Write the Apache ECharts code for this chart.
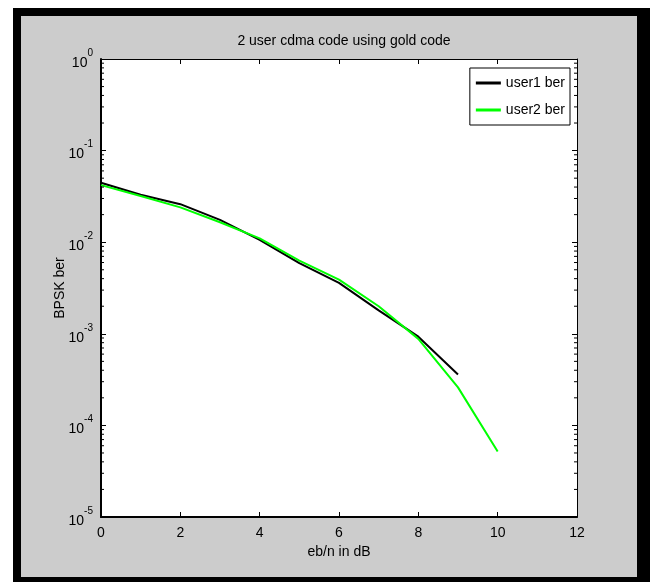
<!DOCTYPE html>
<html>
<head>
<meta charset="utf-8">
<script src="https://cdn.jsdelivr.net/npm/echarts@6/dist/echarts.min.js"></script>
<style>
html,body{margin:0;padding:0;background:#fff;}
#c{width:650px;height:582px;}
</style>
</head>
<body>
<div id="c"></div>
<script>
const titleText = '2 user cdma code using gold code';
const xName = 'eb/n in dB';
const yName = 'BPSK ber';
const xTicks = [0, 2, 4, 6, 8, 10, 12];
const user1X = [0, 1, 2, 3, 4, 5, 6, 7, 8, 9];
const user1Ber = [0.0445, 0.033, 0.026, 0.0175, 0.0106, 0.0059, 0.0036, 0.0018, 0.00093, 0.00036];
const user2X = [0, 1, 2, 3, 4, 5, 6, 7, 8, 9, 10];
const user2Ber = [0.042, 0.032, 0.024, 0.0165, 0.011, 0.0063, 0.0039, 0.0020, 0.00088, 0.00026, 0.000052];
const seriesNames = ['user1 ber', 'user2 ber'];

const minorVals = [];
for (let e = -5; e <= -1; e++) {
  for (let m = 2; m <= 9; m++) minorVals.push([0, m * Math.pow(10, e)]);
}

const chart = echarts.init(document.getElementById('c'), null, {renderer: 'canvas'});
const font = 'Liberation Sans, Arial, sans-serif';

const yLabel = {
  formatter: function (v) {
    const e = Math.round(Math.log10(v));
    return '{b|10}{s|' + e + '}';
  },
  rich: {
    b: {fontSize: 14, fontFamily: font, color: '#000', verticalAlign: 'bottom', lineHeight: 22},
    s: {fontSize: 10, fontFamily: font, color: '#000', verticalAlign: 'top', lineHeight: 22}
  },
  margin: 8
};

chart.setOption({
  animation: false,
  backgroundColor: '#ffffff',
  graphic: [
    {type: 'rect', shape: {x: 13, y: 8, width: 637, height: 574}, style: {fill: '#000'}, z: -10},
    {type: 'rect', shape: {x: 21, y: 16, width: 616, height: 561}, style: {fill: '#cccccc'}, z: -9}
  ],
  title: {
    text: titleText,
    left: 339, top: 29, textAlign: 'center',
    textStyle: {fontSize: 14, fontWeight: 'normal', fontFamily: font, color: '#000'}
  },
  legend: {
    data: seriesNames,
    orient: 'vertical',
    right: 80, top: 68,
    backgroundColor: '#fff',
    borderColor: '#000', borderWidth: 1,
    padding: [7, 5, 7, 6],
    itemGap: 11,
    itemWidth: 25, itemHeight: 3,
    icon: 'rect',
    textStyle: {fontSize: 14, fontFamily: font, color: '#000', lineHeight: 16}
  },
  grid: {left: 101, top: 59, right: 73, bottom: 65, backgroundColor: '#fff', show: true, borderWidth: 0},
  xAxis: [
    {
      type: 'value', min: 0, max: 12, interval: 2, position: 'bottom',
      name: xName, nameLocation: 'middle', nameGap: 28, nameMoveOverlap: false,
      nameTextStyle: {fontSize: 14, fontFamily: font, color: '#000'},
      axisLine: {show: true, onZero: false, lineStyle: {color: '#000', width: 2}},
      axisTick: {show: true, inside: true, length: 5, lineStyle: {color: '#000'}},
      axisLabel: {fontSize: 14, fontFamily: font, color: '#000', margin: 9},
      splitLine: {show: false}
    },
    {
      type: 'value', min: 0, max: 12, interval: 2, position: 'top',
      axisLine: {show: true, onZero: false, lineStyle: {color: '#000', width: 1}},
      axisTick: {show: true, inside: true, length: 5, lineStyle: {color: '#000'}},
      axisLabel: {show: false},
      splitLine: {show: false}
    }
  ],
  yAxis: [
    {
      type: 'log', logBase: 10, min: 1e-5, max: 1, position: 'left',
      name: yName, nameLocation: 'middle', nameGap: 34, nameRotate: 90, nameMoveOverlap: false,
      nameTextStyle: {fontSize: 14, fontFamily: font, color: '#000'},
      axisLine: {show: true, onZero: false, lineStyle: {color: '#000', width: 2}},
      axisTick: {show: true, inside: true, length: 5, lineStyle: {color: '#000'}},
      axisLabel: yLabel,
      splitLine: {show: false}
    },
    {
      type: 'log', logBase: 10, min: 1e-5, max: 1, position: 'right',
      axisLine: {show: true, onZero: false, lineStyle: {color: '#000', width: 1}},
      axisTick: {show: true, inside: true, length: 5, lineStyle: {color: '#000'}},
      axisLabel: {show: false},
      splitLine: {show: false}
    }
  ],
  series: [
    {
      type: 'custom', name: 'minorTicks', silent: true, clip: false,
      data: minorVals,
      encode: {x: 0, y: 1},
      renderItem: function (params, api) {
        const v = api.value(1);
        const pl = api.coord([0, v]);
        const pr = api.coord([12, v]);
        return {
          type: 'group',
          children: [
            {type: 'line', shape: {x1: pl[0], y1: pl[1], x2: pl[0] + 3, y2: pl[1]}, style: {stroke: '#000', lineWidth: 1}},
            {type: 'line', shape: {x1: pr[0], y1: pr[1], x2: pr[0] - 3, y2: pr[1]}, style: {stroke: '#000', lineWidth: 1}}
          ]
        };
      },
      z: 5
    },
    {
      type: 'line', name: seriesNames[0],
      data: user1X.map((x, i) => [x, user1Ber[i]]),
      showSymbol: false, symbol: 'none',
      lineStyle: {color: '#000', width: 2},
      itemStyle: {color: '#000'},
      z: 3
    },
    {
      type: 'line', name: seriesNames[1],
      data: user2X.map((x, i) => [x, user2Ber[i]]),
      showSymbol: false, symbol: 'none',
      lineStyle: {color: '#00ff00', width: 2},
      itemStyle: {color: '#00ff00'},
      z: 4
    }
  ]
});
</script>
</body>
</html>
